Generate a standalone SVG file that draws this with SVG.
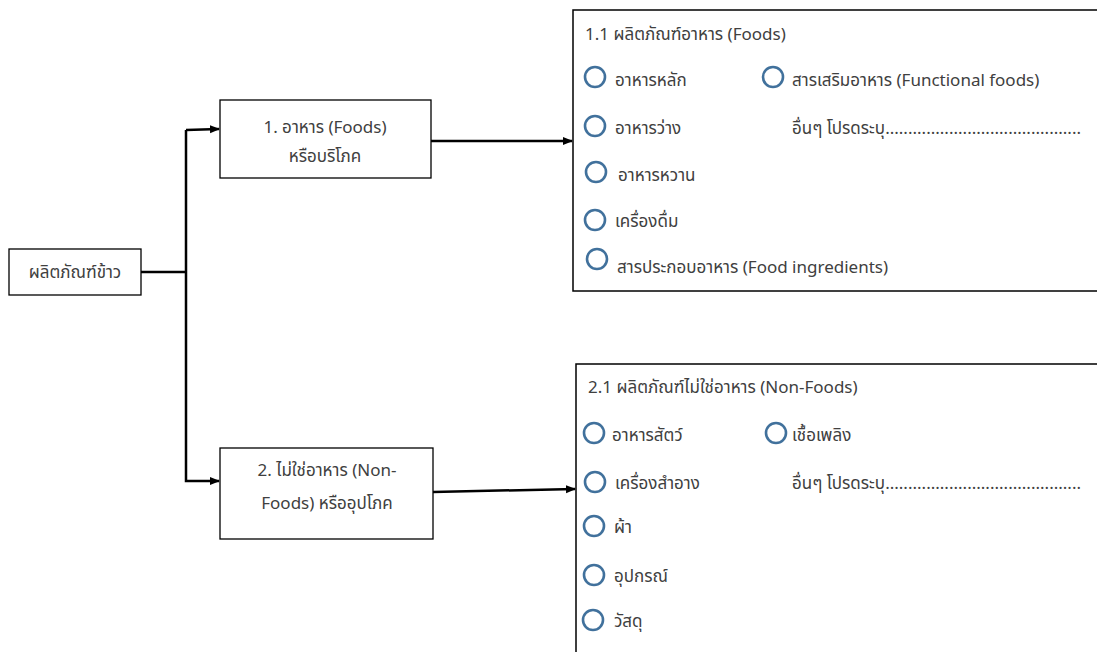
<svg xmlns="http://www.w3.org/2000/svg" width="1097" height="652" viewBox="0 0 1097 652">
<defs>
<style>
.box{fill:#fff;stroke:#000;stroke-width:1.3}
.panel{fill:#fff;stroke:#000;stroke-width:1.5}
.t{font-family:"Noto Sans Thai","Noto Sans","DejaVu Sans",sans-serif;font-size:17px;fill:#404040}
.c{font-family:"Noto Sans Thai","Noto Sans","DejaVu Sans",sans-serif;font-size:17px;fill:#404040;text-anchor:middle}
.rb{fill:none;stroke:#41719c;stroke-width:2.6}
.ln{fill:none;stroke:#000;stroke-width:2.5}
</style>
<marker id="ah" markerWidth="10" markerHeight="10" refX="9" refY="5" orient="auto" markerUnits="userSpaceOnUse">
<path d="M0,1 L10,5 L0,9 Z" fill="#000"/>
</marker>
</defs>
<rect width="1097" height="652" fill="#fff"/>
<g id="connectors">
<path class="ln" d="M141,272 H186"/>
<path class="ln" d="M186,130 V481 H219" marker-end="url(#ah)"/>
<path class="ln" d="M186,130 L219,129" marker-end="url(#ah)"/>
<path class="ln" d="M431,141 H572" marker-end="url(#ah)"/>
<path class="ln" d="M433,492 L575,489" marker-end="url(#ah)"/>
</g>
<g id="root">
<rect class="box" x="9" y="249" width="132" height="46"/>
<text class="c" x="75" y="278">ผลิตภัณฑ์ข้าว</text>
</g>
<g id="foods">
<rect class="box" x="220" y="100" width="211" height="78"/>
<text class="c" x="325" y="133">1. อาหาร (Foods)</text>
<text class="c" x="325" y="162">หรือบริโภค</text>
</g>
<g id="nonfoods">
<rect class="box" x="220" y="448" width="213" height="91"/>
<text class="c" x="327" y="476">2. ไม่ใช่อาหาร (Non-</text>
<text class="c" x="327" y="509">Foods) หรืออุปโภค</text>
</g>
<g id="panel-foods">
<rect class="panel" x="573" y="10" width="540" height="281"/>
<text class="t" x="585" y="40">1.1 ผลิตภัณฑ์อาหาร (Foods)</text>
<circle class="rb" cx="595" cy="77" r="10"/>
<text class="t" x="615" y="86">อาหารหลัก</text>
<circle class="rb" cx="773" cy="77" r="10"/>
<text class="t" x="792" y="86">สารเสริมอาหาร (Functional foods)</text>
<circle class="rb" cx="595" cy="126" r="10"/>
<text class="t" x="615" y="134">อาหารว่าง</text>
<text class="t" x="792" y="134">อื่นๆ โปรดระบุ...........................................</text>
<circle class="rb" cx="596" cy="172" r="10"/>
<text class="t" x="618" y="181">อาหารหวาน</text>
<circle class="rb" cx="595" cy="220" r="10"/>
<text class="t" x="615" y="227">เครื่องดื่ม</text>
<circle class="rb" cx="597" cy="259" r="10"/>
<text class="t" x="617" y="273">สารประกอบอาหาร (Food ingredients)</text>
</g>
<g id="panel-nonfoods">
<rect class="panel" x="576" y="364" width="540" height="300"/>
<text class="t" x="588" y="393">2.1 ผลิตภัณฑ์ไม่ใช่อาหาร (Non-Foods)</text>
<circle class="rb" cx="594" cy="433" r="10"/>
<text class="t" x="612" y="441">อาหารสัตว์</text>
<circle class="rb" cx="776" cy="433" r="10"/>
<text class="t" x="792" y="441">เชื้อเพลิง</text>
<circle class="rb" cx="595" cy="482" r="10"/>
<text class="t" x="615" y="489">เครื่องสำอาง</text>
<text class="t" x="792" y="489">อื่นๆ โปรดระบุ...........................................</text>
<circle class="rb" cx="594" cy="526" r="10"/>
<text class="t" x="614" y="533">ผ้า</text>
<circle class="rb" cx="594" cy="575" r="10"/>
<text class="t" x="614" y="582">อุปกรณ์</text>
<circle class="rb" cx="593" cy="620" r="10"/>
<text class="t" x="614" y="627">วัสดุ</text>
</g>
</svg>
